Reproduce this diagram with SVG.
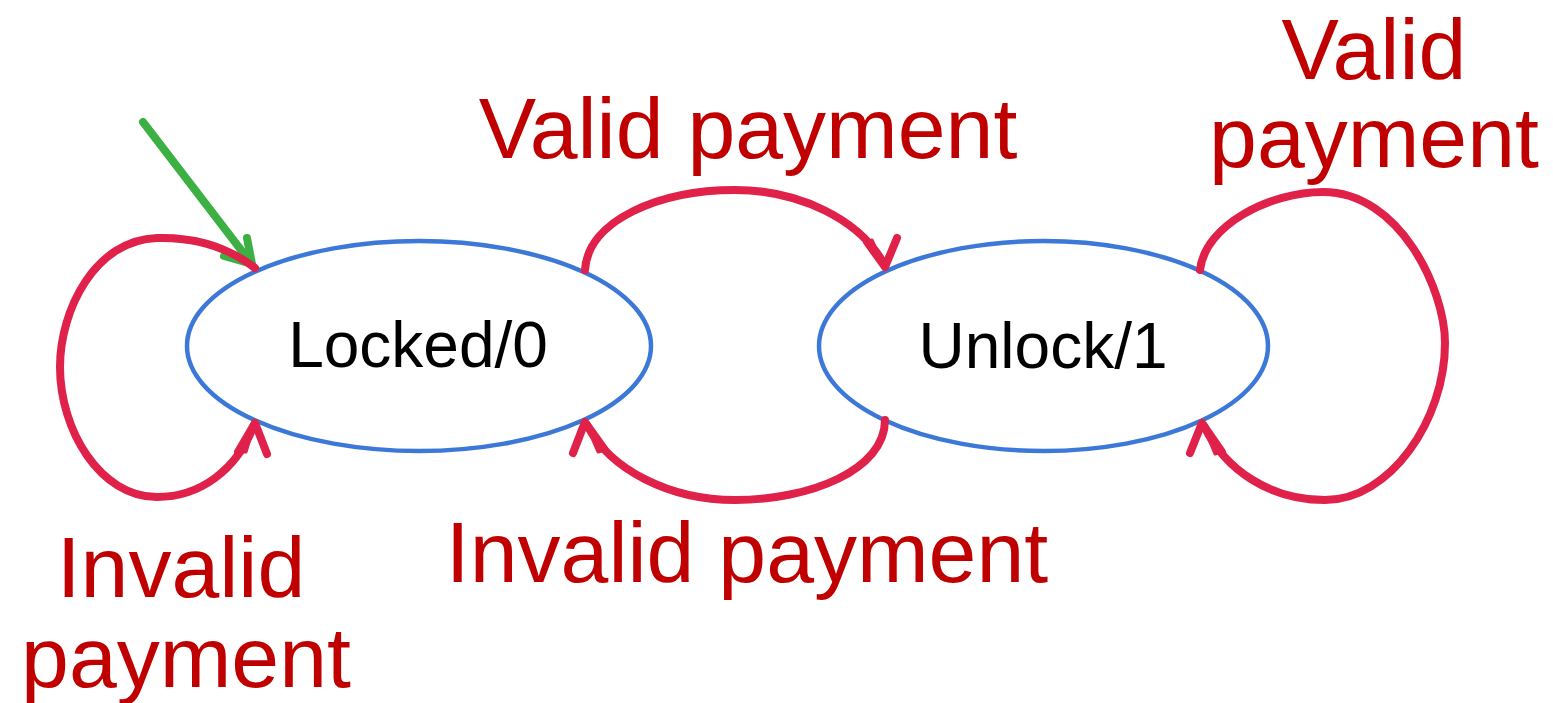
<svg xmlns="http://www.w3.org/2000/svg" width="1553" height="703" viewBox="0 0 1553 703">
<style>
.state{fill:#ffffff;stroke:#3c78d8;stroke-width:4.5}
.stext{font-family:"Liberation Sans",Arial,sans-serif;font-size:64px;fill:#000000;text-anchor:middle}
.edge{fill:none;stroke:#e0214a;stroke-width:8;stroke-linecap:round;stroke-linejoin:round}
.head{fill:#e0214a;stroke:#e0214a;stroke-width:3;stroke-linejoin:round}
.init{fill:none;stroke:#3cb043;stroke-width:8;stroke-linecap:round;stroke-linejoin:round}
.lbl{font-family:"Liberation Sans",Arial,sans-serif;font-size:86px;fill:#c00000;text-anchor:middle}
</style>
<rect width="1553" height="703" fill="#ffffff"/>
<g id="node-locked">
<ellipse class="state" cx="419" cy="346" rx="232" ry="105"/>
<text class="stext" x="418" y="367">Locked/0</text>
</g>
<g id="node-unlock">
<ellipse class="state" cx="1043.5" cy="346" rx="224.5" ry="105"/>
<text class="stext" x="1043" y="368">Unlock/1</text>
</g>
<g id="connectors">
<g id="initial">
<path class="init" d="M 143 122 L 251 263"/>
<polyline class="init" points="247,238 252,264 224,256"/>
</g>
<g id="locked-self">
<path class="edge" d="M 255 268 C 225 245, 190 237, 157 238 C 95 240, 60 310, 60 367 C 60 430, 100 497, 157 497 C 200 497, 237 470, 254 425"/>
<polyline class="edge" points="238,452 255,423 267,454"/>
<polygon class="head" points="255,423 238,452 246,452"/>
</g>
<g id="locked-to-unlock">
<path class="edge" d="M 585 270 C 588 220, 660 190, 735 190 C 800 190, 860 220, 884 264"/>
<polyline class="edge" points="867,242 885,267 897,238"/>
<polygon class="head" points="885,267 867,242 872,240"/>
</g>
<g id="unlock-to-locked">
<path class="edge" d="M 885 420 C 885 470, 810 500, 735 500 C 670 500, 610 470, 587 425"/>
<polyline class="edge" points="573,453 585,422 605,450"/>
<polygon class="head" points="585,422 605,450 598,452"/>
</g>
<g id="unlock-self">
<path class="edge" d="M 1200 270 C 1205 225, 1270 192, 1323 192 C 1400 192, 1445 290, 1445 343 C 1445 420, 1390 500, 1325 500 C 1270 500, 1225 470, 1204 426"/>
<polyline class="edge" points="1190,453 1202,423 1222,452"/>
<polygon class="head" points="1202,423 1222,452 1215,454"/>
</g>
</g>
<g id="labels">
<text class="lbl" x="748" y="158">Valid payment</text>
<text class="lbl" x="747" y="582">Invalid payment</text>
<text class="lbl" x="1374" y="79">Valid</text>
<text class="lbl" x="1374" y="167">payment</text>
<text class="lbl" x="181" y="597">Invalid</text>
<text class="lbl" x="186" y="687">payment</text>
</g>
</svg>
